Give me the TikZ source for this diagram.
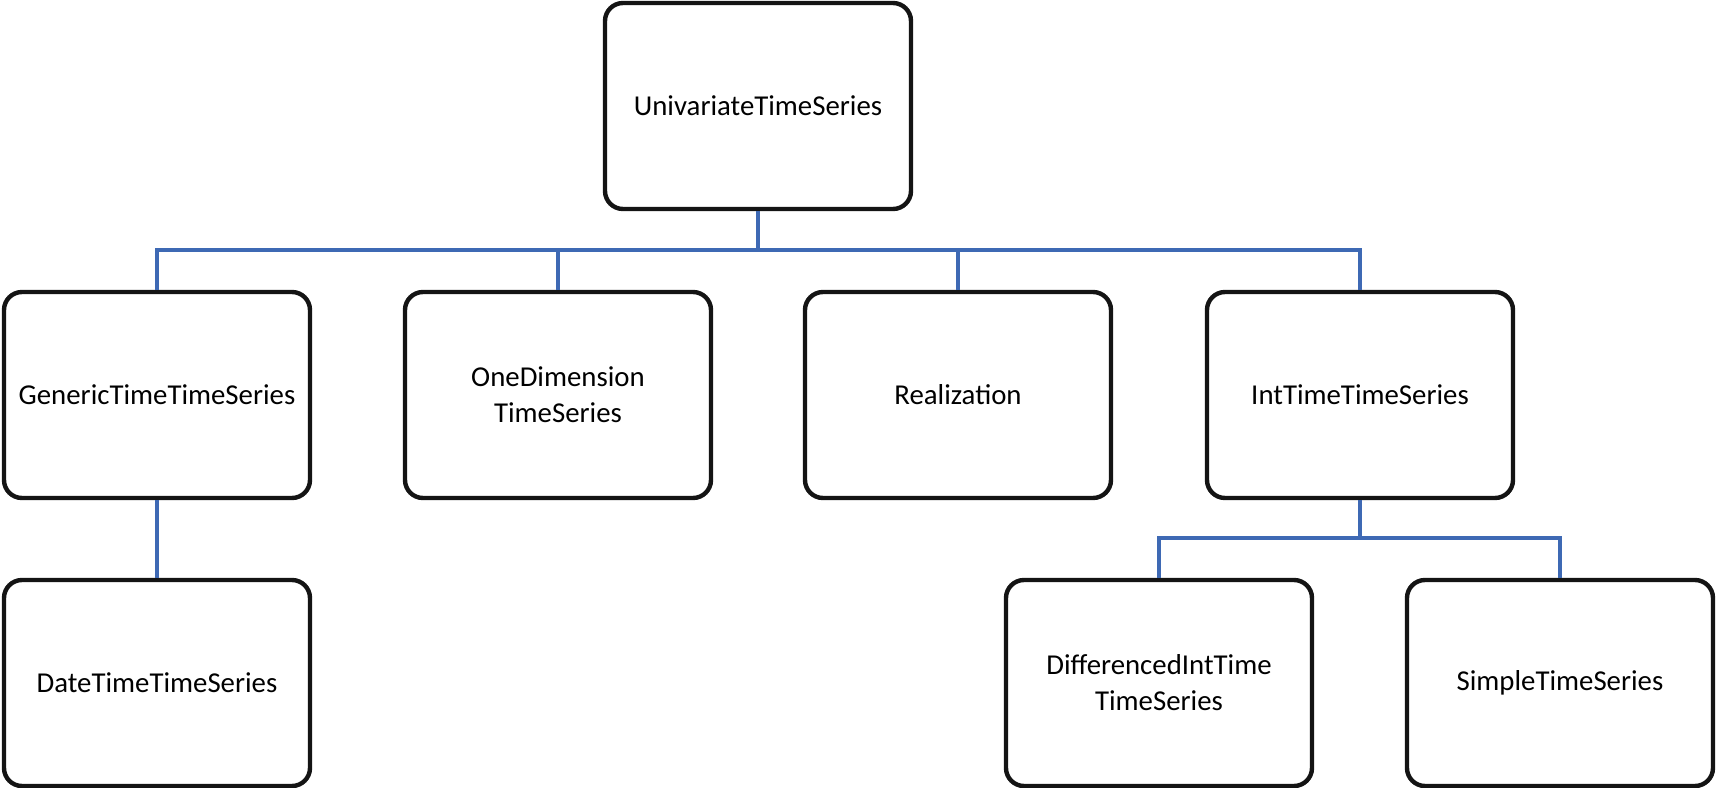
\documentclass[tikz,border=0pt]{standalone}
\usepackage{fontspec}
\setmainfont{Carlito}
\definecolor{connblue}{RGB}{62,105,180}
\definecolor{boxline}{RGB}{20,20,20}
\begin{document}
\begin{tikzpicture}[x=0.5pt,y=-0.5pt,
  cls/.style={draw=boxline, line width=2.2pt, fill=white, rounded corners=9pt,
    minimum width=153pt, minimum height=103pt, inner sep=0pt, align=center,
    font=\fontsize{14.4pt}{18pt}\selectfont, text=black},
  conn/.style={draw=connblue, line width=2.4pt}]
\useasboundingbox (0,0) rectangle (1721,788);
\coordinate (bus) at (0,250);
\coordinate (bus2) at (0,538);
% nodes
\node[cls] (root) at (758,106) {UnivariateTimeSeries};
\node[cls] (gen) at (157,395) {GenericTimeTimeSeries};
\node[cls] (one) at (558,395) {OneDimension\\TimeSeries};
\node[cls] (real) at (958,395) {Realization};
\node[cls] (int) at (1360,395) {IntTimeTimeSeries};
\node[cls] (date) at (157,683) {DateTimeTimeSeries};
\node[cls] (diff) at (1159,683) {DifferencedIntTime\\TimeSeries};
\node[cls] (simple) at (1560,683) {SimpleTimeSeries};
% connectors
\draw[conn] (root.south) -- (root.south |- bus);
\draw[conn] (gen.north) -- (gen.north |- bus) -- (int.north |- bus) -- (int.north);
\draw[conn] (one.north) -- (one.north |- bus);
\draw[conn] (real.north) -- (real.north |- bus);
\draw[conn] (gen.south) -- (date.north);
\draw[conn] (int.south) -- (int.south |- bus2);
\draw[conn] (diff.north) -- (diff.north |- bus2) -- (simple.north |- bus2) -- (simple.north);
\end{tikzpicture}
\end{document}
